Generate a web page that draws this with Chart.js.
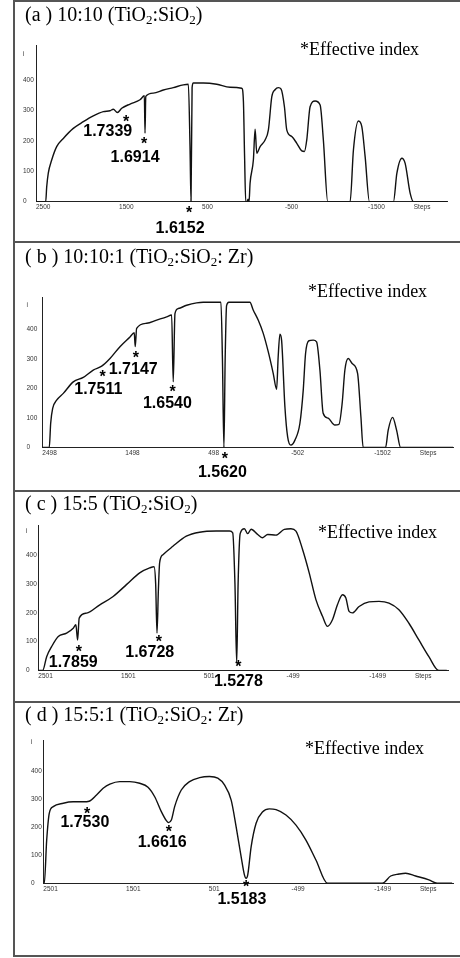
<!DOCTYPE html>
<html>
<head>
<meta charset="utf-8">
<script src="https://cdn.jsdelivr.net/npm/chart.js@4.4.0/dist/chart.umd.min.js"></script>
<style>
  body { margin: 0; width: 460px; height: 958px; position: relative; background: #fff; overflow: hidden; }
  .frame { position: absolute; left: 13px; top: 0; width: 460px; height: 957px; border: 2px solid #555; border-right: none; box-sizing: border-box; }
  .sep { position: absolute; left: 13px; width: 447px; height: 2px; background: #555; }
  canvas { position: absolute; left: 0; }
  .ttl, .eff { position: absolute; font: 18px/18px "Liberation Serif", "Times New Roman", serif; white-space: nowrap; color: #000; z-index: 2; }
  .ttl { left: 25px; font-size: 20px; line-height: 20px; }
  sub { font-size: 13px; vertical-align: -3px; line-height: 0; }
</style>
</head>
<body>
<div class="frame"></div>
<div class="sep" style="top:241px"></div>
<div class="sep" style="top:490px"></div>
<div class="sep" style="top:701px"></div>

<canvas id="pa" width="460" height="241" style="top:0"></canvas>
<canvas id="pb" width="460" height="249" style="top:242px"></canvas>
<canvas id="pc" width="460" height="209" style="top:492px"></canvas>
<canvas id="pd" width="460" height="253" style="top:702px"></canvas>

<div class="ttl" style="top:4px">(a ) 10:10 (TiO<sub>2</sub>:SiO<sub>2</sub>)</div>
<div class="eff" style="top:40px;left:300px">*Effective index</div>
<div class="ttl" style="top:246px">( b ) 10:10:1 (TiO<sub>2</sub>:SiO<sub>2</sub>: Zr)</div>
<div class="eff" style="top:282px;left:308px">*Effective index</div>
<div class="ttl" style="top:493px">( c ) 15:5 (TiO<sub>2</sub>:SiO<sub>2</sub>)</div>
<div class="eff" style="top:523px;left:318px">*Effective index</div>
<div class="ttl" style="top:704px">( d ) 15:5:1 (TiO<sub>2</sub>:SiO<sub>2</sub>: Zr)</div>
<div class="eff" style="top:739px;left:305px">*Effective index</div>

<script>
// (a) 10:10 TiO2:SiO2
const stepsA = [2500, 2383, 2371, 2352, 2311, 2251, 2171, 2051, 1930, 1810, 1689, 1608, 1569, 1520, 1468, 1367, 1247, 1195, 1187, 1178, 1087, 966, 846, 725, 665, 645, 633, 620, 605, 484, 323, 163, 22, 2, -12, -26, -42, -54, -66, -78, -118, -139, -159, -199, -259, -299, -340, -379, -419, -452, -492, -520, -581, -641, -701, -733, -761, -801, -861, -922, -961, -1014, -1283, -1323, -1383, -1424, -1464, -1516, -1805, -1846, -1906, -1946, -2006, -2046, -2452];
const intensityA = [0, 0, 49, 94, 137, 181, 208, 241, 263, 282, 296, 299, 304, 293, 307, 321, 335, 348, 225, 346, 357, 367, 375, 384, 386, 180, 0, 375, 390, 390, 386, 376, 373, 330, 150, 0, 0, 8, 0, 60, 137, 238, 159, 181, 203, 236, 345, 368, 375, 370, 312, 236, 214, 192, 167, 165, 203, 312, 331, 318, 203, 0, 0, 170, 265, 247, 148, 0, 0, 93, 143, 126, 28, 0, 0];
const xTicksA = [2500, 1500, 500, -500, -1500];
const yTicksA = [0, 100, 200, 300, 400, 486];
// [effective index, star step, star intensity, text step, text intensity]
const marksA = [['1.7339', 1416, 274, 1636, 236], ['1.6914', 1199, 203, 1307, 151], ['1.6152', 657, -25, 765, -82]];

// (b) 10:10:1 TiO2:SiO2:Zr
const stepsB = [2498, 2414, 2397, 2373, 2325, 2245, 2125, 2004, 1884, 1782, 1682, 1562, 1441, 1390, 1378, 1361, 1240, 1120, 999, 939, 920, 899, 859, 758, 638, 558, 345, 327, 309, 294, 277, 249, -4, -44, -104, -165, -225, -285, -326, -345, -366, -386, -426, -459, -498, -547, -607, -647, -675, -715, -767, -808, -848, -887, -948, -1028, -1077, -1116, -1149, -1189, -1237, -1302, -1342, -1369, -1639, -1671, -1724, -1772, -1820, -2452];
const intensityB = [0, 0, 82, 132, 160, 183, 222, 237, 262, 275, 301, 341, 374, 388, 341, 403, 420, 431, 442, 448, 222, 453, 470, 481, 489, 491, 491, 300, 0, 300, 480, 491, 491, 465, 431, 386, 324, 251, 197, 307, 383, 363, 138, 36, 8, 25, 82, 194, 318, 361, 363, 357, 262, 116, 99, 76, 78, 149, 262, 301, 284, 251, 104, 0, 0, 59, 102, 59, 0, 0];
const xTicksB = [2498, 1498, 498, -502, -1502];
const yTicksB = [0, 100, 200, 300, 400, 482];
const marksB = [['1.7147', 1369, 316, 1402, 270], ['1.7511', 1770, 253, 1823, 200], ['1.6540', 927, 200, 990, 153], ['1.5620', 297, -25, 327, -79]];

// (c) 15:5 TiO2:SiO2
const stepsC = [2501, 2448, 2400, 2340, 2260, 2159, 2079, 2047, 2026, 2007, 1918, 1758, 1597, 1436, 1276, 1155, 1103, 1083, 1067, 1050, 1035, 995, 875, 713, 553, 352, 191, 152, 125, 104, 87, 62, 11, -29, -70, -150, -210, -270, -371, -471, -552, -612, -692, -772, -853, -933, -993, -1053, -1113, -1174, -1215, -1254, -1294, -1375, -1495, -1616, -1736, -1856, -1977, -2097, -2218, -2338, -2434];
const intensityC = [0, 0, 48, 83, 118, 130, 147, 159, 106, 182, 199, 228, 257, 298, 339, 356, 360, 300, 130, 280, 374, 402, 431, 466, 480, 484, 484, 478, 300, 25, 300, 475, 492, 475, 490, 472, 461, 472, 470, 490, 492, 484, 420, 339, 246, 188, 153, 176, 228, 263, 252, 205, 200, 222, 238, 240, 234, 211, 164, 106, 48, 0, 0];
const xTicksC = [2501, 1501, 501, -499, -1499];
const yTicksC = [0, 100, 200, 300, 400, 484];
const marksC = [['1.7859', 2011, 79, 2079, 34], ['1.6728', 1043, 112, 1155, 66], ['1.5278', 83, 27, 83, -32]];

// (d) 15:5:1 TiO2:SiO2:Zr
const stepsD = [2501, 2489, 2460, 2429, 2381, 2260, 2140, 2019, 1947, 1858, 1778, 1697, 1577, 1456, 1336, 1236, 1155, 1075, 1014, 987, 954, 914, 834, 734, 613, 493, 393, 312, 231, 171, 111, 71, 51, 31, -10, -70, -150, -230, -311, -431, -552, -672, -793, -933, -1595, -1696, -1796, -1877, -1998, -2158, -2258, -2438];
const intensityD = [0, 0, 154, 249, 273, 285, 290, 290, 292, 314, 338, 353, 362, 362, 356, 342, 308, 255, 223, 216, 225, 273, 332, 362, 376, 380, 374, 350, 296, 201, 95, 30, 18, 30, 130, 214, 255, 265, 262, 243, 207, 154, 83, 0, 0, 26, 33, 36, 26, 12, 0, 0];
const xTicksD = [2501, 1501, 501, -499, -1499];
const yTicksD = [0, 100, 200, 300, 400, 503];
const marksD = [['1.7530', 1971, 261, 1999, 223], ['1.6616', 983, 196, 1065, 152], ['1.5183', 51, 2, 101, -53]];

const tickFont = { size: 6.5, family: '"Liberation Sans", Arial, sans-serif' };

function makePanel(id, steps, vals, xTicks, yTicks, marks, box) {
  const canvas = document.getElementById(id);
  const span = 4950;
  const markPlugin = {
    id: 'marks' + id,
    afterDatasetsDraw(chart) {
      const ctx = chart.ctx, x = chart.scales.x, y = chart.scales.y;
      ctx.save();
      ctx.fillStyle = '#000';
      ctx.textAlign = 'center';
      ctx.textBaseline = 'alphabetic';
      marks.forEach(m => {
        ctx.font = 'bold 16px "Liberation Sans", Arial, sans-serif';
        ctx.fillText('*', x.getPixelForValue(m[1]), y.getPixelForValue(m[2]) + 9);
        ctx.fillText(m[0], x.getPixelForValue(m[3]), y.getPixelForValue(m[4]) + 6);
      });
      ctx.restore();
    }
  };
  return new Chart(canvas, {
    type: 'line',
    data: {
      datasets: [{
        data: steps.map((s, i) => ({ x: s, y: vals[i] })),
        borderColor: '#111',
        borderWidth: 1.4,
        pointRadius: 0,
        cubicInterpolationMode: 'monotone',
        fill: false
      }]
    },
    options: {
      responsive: false,
      animation: false,
      devicePixelRatio: 1,
      layout: { padding: { left: box.labelL, right: box.padR, top: box.top, bottom: 0 } },
      plugins: { legend: { display: false }, tooltip: { enabled: false } },
      scales: {
        x: {
          type: 'linear',
          reverse: true,
          min: xTicks[0] - span,
          max: xTicks[0],
          grid: { display: false, drawTicks: false },
          border: { display: true, color: '#222', width: 1 },
          afterBuildTicks: s => { s.ticks = xTicks.concat([xTicks[0] - 4550]).map(v => ({ value: v })); },
          afterFit: s => { s.height = canvas.height - box.bottom; },
          ticks: {
            autoSkip: false, maxRotation: 0, minRotation: 0, align: 'start', padding: 2,
            font: tickFont, color: '#333',
            callback: (v, i) => i < xTicks.length ? String(xTicks[i]) : 'Steps'
          }
        },
        y: {
          min: 0,
          max: box.yMax,
          grid: { display: false, drawTicks: false },
          border: { display: true, color: '#222', width: 1 },
          afterBuildTicks: s => { s.ticks = yTicks.map(v => ({ value: v })); },
          afterFit: s => { s.width = box.axisL - box.labelL; },
          ticks: {
            autoSkip: false, crossAlign: 'far', padding: 2,
            font: tickFont, color: '#333',
            callback: (v, i) => i === yTicks.length - 1 ? 'i' : String(v)
          }
        }
      }
    },
    plugins: [markPlugin]
  });
}

makePanel('pa', stepsA, intensityA, xTicksA, yTicksA, marksA, { labelL: 23, axisL: 36, padR: 13, top: 45, bottom: 201.7, yMax: 515 });
makePanel('pb', stepsB, intensityB, xTicksB, yTicksB, marksB, { labelL: 26.5, axisL: 42.3, padR: 7, top: 55, bottom: 205.5, yMax: 509 });
makePanel('pc', stepsC, intensityC, xTicksC, yTicksC, marksC, { labelL: 26, axisL: 38.3, padR: 12, top: 33, bottom: 178.5, yMax: 505 });
makePanel('pd', stepsD, intensityD, xTicksD, yTicksD, marksD, { labelL: 31, axisL: 43.3, padR: 7, top: 38, bottom: 181.3, yMax: 510 });
</script>
</body>
</html>
